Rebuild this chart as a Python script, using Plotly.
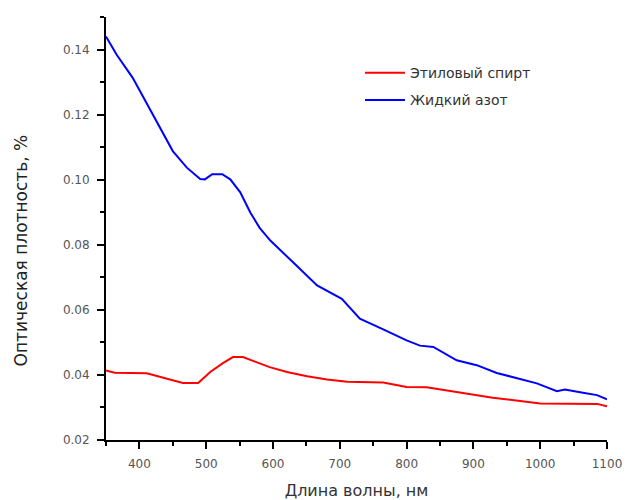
import plotly.graph_objects as go

# Wavelength (nm) and optical density values
ethanol_x = [350, 363, 411, 425, 449, 465, 488, 506, 525, 540, 555, 576, 595, 621, 651,
             681, 711, 765, 800, 830, 865, 899, 929, 970, 1000, 1085, 1100]
ethanol_y = [0.0414, 0.0407, 0.0405, 0.0397, 0.0382, 0.0375, 0.0375, 0.0409, 0.0436, 0.0455,
             0.0455, 0.0440, 0.0424, 0.0409, 0.0396, 0.0386, 0.0379, 0.0377, 0.0363, 0.0362,
             0.0350, 0.0338, 0.0330, 0.0320, 0.0312, 0.0311, 0.0304]

nitrogen_x = [350, 366, 390, 420, 450, 471, 491, 498, 509, 524, 536, 551, 566, 580, 596, 630,
              666, 703, 730, 765, 800, 820, 840, 875, 905, 935, 965, 995, 1025, 1037, 1064,
              1085, 1100]
nitrogen_y = [0.1440, 0.1384, 0.1313, 0.1200, 0.1088, 0.1037, 0.1002, 0.1001, 0.1017, 0.1017,
              0.1001, 0.0961, 0.0899, 0.0852, 0.0813, 0.0746, 0.0675, 0.0634, 0.0573, 0.0540,
              0.0506, 0.0490, 0.0486, 0.0445, 0.0430, 0.0406, 0.0389, 0.0374, 0.0350, 0.0355,
              0.0345, 0.0338, 0.0325]

series_names = ["Этиловый спирт", "Жидкий азот"]
x_ticks = [400, 500, 600, 700, 800, 900, 1000, 1100]
y_ticks = [0.02, 0.04, 0.06, 0.08, 0.10, 0.12, 0.14]
x_title = "Длина волны, нм"
y_title = "Оптическая плотность, %"

FONT = "DejaVu Sans, Liberation Sans, Arial"

fig = go.Figure()
fig.add_trace(go.Scatter(x=ethanol_x, y=ethanol_y, mode="lines", name=series_names[0],
                         line=dict(color="#ff0000", width=2), legendgroup="a"))
fig.add_trace(go.Scatter(x=nitrogen_x, y=nitrogen_y, mode="lines", name=series_names[1],
                         line=dict(color="#0000ff", width=2), legendgroup="b"))

axis_common = dict(showgrid=False, zeroline=False, showline=True, linecolor="black",
                   linewidth=2, ticks="outside", ticklen=7, tickwidth=2, tickcolor="black",
                   tickfont=dict(family=FONT, size=12, color="#555"), automargin=False)

fig.update_xaxes(range=[350, 1100], tickvals=x_ticks, ticktext=[str(v) for v in x_ticks],
                 ticklabelstandoff=5,
                 title=dict(text=x_title, font=dict(family=FONT, size=16, color="#333"),
                            standoff=15),
                 minor=dict(tick0=350, dtick=100, ticks="outside", ticklen=4, tickwidth=2,
                            tickcolor="black"),
                 **axis_common)
fig.update_yaxes(range=[0.02, 0.15], tickvals=y_ticks, ticktext=[f"{v:.2f}" for v in y_ticks],
                 ticklabelstandoff=5,
                 minor=dict(tick0=0.03, dtick=0.02, ticks="outside", ticklen=4, tickwidth=2,
                            tickcolor="black"),
                 **axis_common)

# The page body adds an 8px margin, so the figure is sized to fit the window
fig.update_layout(
    width=625, height=492,
    margin=dict(l=98, r=26, t=9, b=60),
    paper_bgcolor="white", plot_bgcolor="white",
    showlegend=True,
    legend=dict(x=0.507, y=0.905, xanchor="left", yanchor="top", bgcolor="rgba(0,0,0,0)",
                font=dict(family=FONT, size=14, color="#333"),
                tracegroupgap=6, itemwidth=40),
    annotations=[dict(text=y_title, textangle=-90, xref="paper", yref="paper",
                      x=-0.169, y=0.449, xanchor="center", yanchor="middle",
                      showarrow=False, font=dict(family=FONT, size=17, color="#222"))],
)

fig.write_html("out.html")
